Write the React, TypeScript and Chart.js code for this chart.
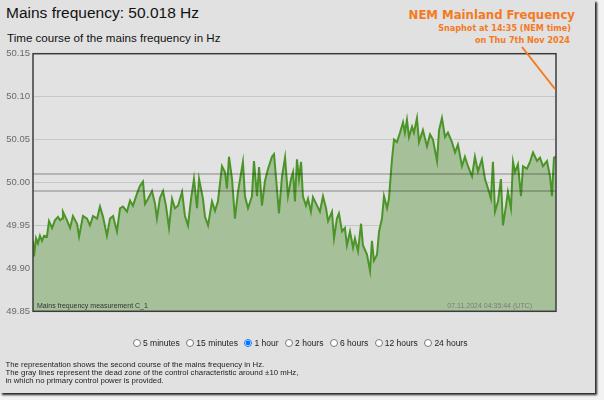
import React, { useEffect, useRef } from "react";
import { Chart, registerables } from "chart.js";

Chart.register(...registerables);

// elapsed seconds within the 1-hour window (03:35:44 .. 04:35:44 UTC)
const elapsedSec = [
  0, 7, 21, 34, 48, 62, 76, 96, 110, 131,
  151, 172, 186, 200, 206, 234, 255, 275, 303, 317,
  344, 372, 392, 413, 441, 461, 482, 509, 530, 551,
  578, 599, 619, 647, 668, 688, 716, 736, 757, 771,
  792, 819, 840, 853, 874, 895, 915, 936, 957, 977,
  998, 1026, 1046, 1067, 1088, 1108, 1129, 1143, 1170, 1184,
  1205, 1232, 1253, 1273, 1301, 1322, 1335, 1349, 1370, 1390,
  1411, 1445, 1459, 1480, 1507, 1521, 1542, 1556, 1576, 1597,
  1618, 1645, 1659, 1679, 1693, 1714, 1735, 1755, 1776, 1790,
  1803, 1817, 1831, 1845, 1858, 1879, 1893, 1913, 1927, 1955,
  1975, 1996, 2017, 2031, 2058, 2072, 2092, 2106, 2127, 2147,
  2161, 2182, 2203, 2216, 2237, 2258, 2271, 2299, 2320, 2333,
  2347, 2368, 2382, 2402, 2416, 2437, 2450, 2471, 2485, 2505,
  2526, 2547, 2560, 2574, 2588, 2609, 2622, 2643, 2657, 2684,
  2712, 2733, 2753, 2781, 2795, 2815, 2836, 2856, 2884, 2905,
  2925, 2953, 2973, 2994, 3022, 3042, 3063, 3090, 3111, 3132,
  3152, 3166, 3180, 3201, 3221, 3235, 3256, 3269, 3290, 3304,
  3318, 3338, 3359, 3373, 3400, 3421, 3442, 3469, 3490, 3510,
  3538, 3559, 3572, 3586, 3600,
];

// mains frequency in Hz
const freqHz = [
  49.932, 49.914, 49.935, 49.929, 49.938, 49.932, 49.938, 49.937, 49.955, 49.947,
  49.956, 49.96, 49.956, 49.958, 49.966, 49.956, 49.947, 49.961, 49.952, 49.937,
  49.961, 49.958, 49.95, 49.961, 49.958, 49.972, 49.96, 49.938, 49.958, 49.961,
  49.943, 49.97, 49.972, 49.966, 49.979, 49.973, 49.987, 49.996, 50.001, 49.975,
  49.981, 49.99, 49.975, 49.958, 49.982, 49.99, 49.973, 49.947, 49.981, 49.97,
  49.973, 49.989, 49.961, 49.95, 49.981, 50.004, 49.97, 50.004, 49.981, 49.96,
  49.95, 49.978, 49.967, 49.978, 50.019, 50.012, 49.993, 50.03, 50.004, 49.958,
  49.989, 50.024, 49.984, 49.97, 49.984, 50.025, 49.984, 50.018, 49.973, 50.002,
  50.016, 50.03, 50.033, 49.993, 49.964, 50.007, 50.029, 49.984, 50.004, 50.012,
  49.978, 50.027, 50.004, 50.024, 49.984, 49.973, 49.981, 49.966, 49.983, 49.973,
  49.966, 49.984, 49.97, 49.955, 49.966, 49.935, 49.958, 49.964, 49.943, 49.947,
  49.927, 49.943, 49.924, 49.935, 49.92, 49.952, 49.927, 49.916, 49.897, 49.932,
  49.909, 49.916, 49.943, 49.958, 49.984, 49.97, 49.981, 50.027, 50.05, 50.047,
  50.058, 50.07, 50.058, 50.073, 50.053, 50.065, 50.058, 50.075, 50.047, 50.061,
  50.042, 50.056, 50.05, 50.025, 50.061, 50.075, 50.053, 50.058, 50.047, 50.035,
  50.044, 50.019, 50.03, 50.019, 50.007, 50.03, 50.013, 50.027, 50.004, 49.993,
  49.981, 50.024, 49.966, 49.978, 50.004, 49.95, 49.973, 49.989, 49.97, 50.024,
  50.012, 50.021, 49.984, 50.019, 50.016, 50.024, 50.035, 50.025, 50.029, 50.019,
  50.025, 50.007, 49.984, 50.029, 50.03,
];

const yTicks = [49.85, 49.9, 49.95, 50.0, 50.05, 50.1, 50.15];
const deadZoneHz = [49.99, 50.01];
const windowSec = [0, 3600];
const periods = ["5 minutes", "15 minutes", "1 hour", "2 hours", "6 hours", "12 hours", "24 hours"];
const selectedPeriod = "1 hour";
const currentValue = "50.018";
const seriesLabel = "Mains frequency measurement C_1";
const timestampLabel = "07.11.2024 04:35:44 (UTC)";

const SANS = '"Liberation Sans", Arial, sans-serif';
const ORANGE_FONT = '"DejaVu Sans Condensed", "DejaVu Sans", Verdana, sans-serif';

export default function App() {
  const canvasRef = useRef<HTMLCanvasElement | null>(null);

  useEffect(() => {
    document.body.style.margin = "0";
    const canvas = canvasRef.current;
    if (!canvas) return;

    const overlay = {
      id: "overlay",
      beforeDraw(chart: any) {
        const { ctx, chartArea: a } = chart;
        ctx.save();
        ctx.fillStyle = "#e2e2e2";
        ctx.fillRect(a.left, a.top, a.right - a.left, a.bottom - a.top);
        ctx.restore();
      },
      afterDatasetsDraw(chart: any) {
        const { ctx, chartArea: a, scales } = chart;
        ctx.save();
        ctx.strokeStyle = "rgba(0,0,0,0.27)";
        ctx.lineWidth = 1.5;
        deadZoneHz.forEach((v) => {
          const y = scales.y.getPixelForValue(v);
          ctx.beginPath();
          ctx.moveTo(a.left, y);
          ctx.lineTo(a.right, y);
          ctx.stroke();
        });
        ctx.restore();
      },
      afterDraw(chart: any) {
        const { ctx, chartArea: a } = chart;
        ctx.save();
        ctx.strokeStyle = "#3c3c3c";
        ctx.lineWidth = 1.5;
        ctx.strokeRect(a.left, a.top, a.right - a.left, a.bottom - a.top);
        ctx.font = `7px ${SANS}`;
        ctx.textBaseline = "alphabetic";
        ctx.fillStyle = "#333";
        ctx.textAlign = "left";
        ctx.fillText(seriesLabel, a.left + 4, a.bottom - 3);
        ctx.fillStyle = "#7a7a7a";
        ctx.textAlign = "right";
        ctx.fillText(timestampLabel, a.right - 24, a.bottom - 3);
        ctx.restore();
      },
    };

    const chart = new Chart(canvas, {
      type: "line",
      data: {
        datasets: [
          {
            data: elapsedSec.map((s, i) => ({ x: s, y: freqHz[i] })),
            borderColor: "#4b9428",
            backgroundColor: "#a6c19a",
            borderWidth: 2,
            pointRadius: 0,
            fill: "start",
            tension: 0,
          },
        ],
      },
      options: {
        animation: false,
        responsive: false,
        devicePixelRatio: 1,
        layout: { padding: { top: 8, right: 24, bottom: 6, left: 0 } },
        plugins: { legend: { display: false }, tooltip: { enabled: false } },
        scales: {
          x: { type: "linear", min: windowSec[0], max: windowSec[1], display: false },
          y: {
            min: yTicks[0],
            max: yTicks[yTicks.length - 1],
            z: 1,
            afterBuildTicks: (s: any) => {
              s.ticks = yTicks.map((v) => ({ value: v }));
            },
            afterFit: (s: any) => {
              s.width = 33;
            },
            grid: { color: "rgba(0,0,0,0.12)", lineWidth: 1, drawTicks: false },
            border: { display: false },
            ticks: {
              padding: 3,
              color: "#6a6a6a",
              font: { family: SANS, size: 9.5 },
              callback: (v: any) => Number(v).toFixed(2),
            },
          },
        },
      },
      plugins: [overlay],
    } as any);

    return () => chart.destroy();
  }, []);

  return (
    <div
      style={{
        position: "fixed",
        left: 0,
        top: 0,
        width: 604,
        height: 400,
        background: "#f2f2f2",
        overflow: "hidden",
        fontFamily: SANS,
      }}
    >
      <div
        style={{
          position: "absolute",
          left: 0,
          top: 0,
          width: 595,
          height: 393,
          background: "#e1e1e1",
          boxShadow: "2px 2px 2px rgba(0,0,0,0.85)",
        }}
      />
      <div style={{ position: "absolute", left: 6, top: 5.4, fontSize: 15.5, lineHeight: "15.5px", color: "#111", whiteSpace: "nowrap" }}>
        Mains frequency: {currentValue} Hz
      </div>
      <div style={{ position: "absolute", left: 7, top: 31.7, fontSize: 11.6, lineHeight: "11.6px", color: "#111", whiteSpace: "nowrap" }}>
        Time course of the mains frequency in Hz
      </div>

      <canvas
        ref={canvasRef}
        width={580}
        height={275}
        style={{ position: "absolute", left: 0, top: 45, width: 580, height: 275 }}
      />

      <div style={{ position: "absolute", right: 29, top: 8.3, fontFamily: ORANGE_FONT, fontWeight: "bold", fontSize: 13, lineHeight: "13px", color: "#f47a1f", whiteSpace: "nowrap" }}>
        NEM Mainland Frequency
      </div>
      <div style={{ position: "absolute", right: 33, top: 24.1, fontFamily: ORANGE_FONT, fontWeight: "bold", fontSize: 9, lineHeight: "9px", color: "#f47a1f", whiteSpace: "nowrap" }}>
        Snaphot at 14:35 (NEM time)
      </div>
      <div style={{ position: "absolute", right: 34, top: 35.7, fontFamily: ORANGE_FONT, fontWeight: "bold", fontSize: 9, lineHeight: "9px", color: "#f47a1f", whiteSpace: "nowrap" }}>
        on Thu 7th Nov 2024
      </div>
      <svg style={{ position: "absolute", left: 0, top: 0 }} width={604} height={400}>
        <line x1={522} y1={47} x2={555} y2={89} stroke="#f47a1f" strokeWidth={2} />
      </svg>

      <div style={{ position: "absolute", left: 133, top: 338, height: 10, display: "flex", alignItems: "center", gap: 6.5, fontSize: 8.5, color: "#222", whiteSpace: "nowrap" }}>
        {periods.map((p) => (
          <label key={p} style={{ display: "flex", alignItems: "center" }}>
            <input type="radio" name="period" defaultChecked={p === selectedPeriod} style={{ width: 8, height: 8, margin: "0 2px 0 0" }} />
            {p}
          </label>
        ))}
      </div>

      <div style={{ position: "absolute", left: 5.5, top: 360.9, fontSize: 7.8, lineHeight: "8.2px", color: "#222", whiteSpace: "nowrap" }}>
        <div>The representation shows the second course of the mains frequency in Hz.</div>
        <div>The gray lines represent the dead zone of the control characteristic around ±10 mHz,</div>
        <div>in which no primary control power is provided.</div>
      </div>
    </div>
  );
}
